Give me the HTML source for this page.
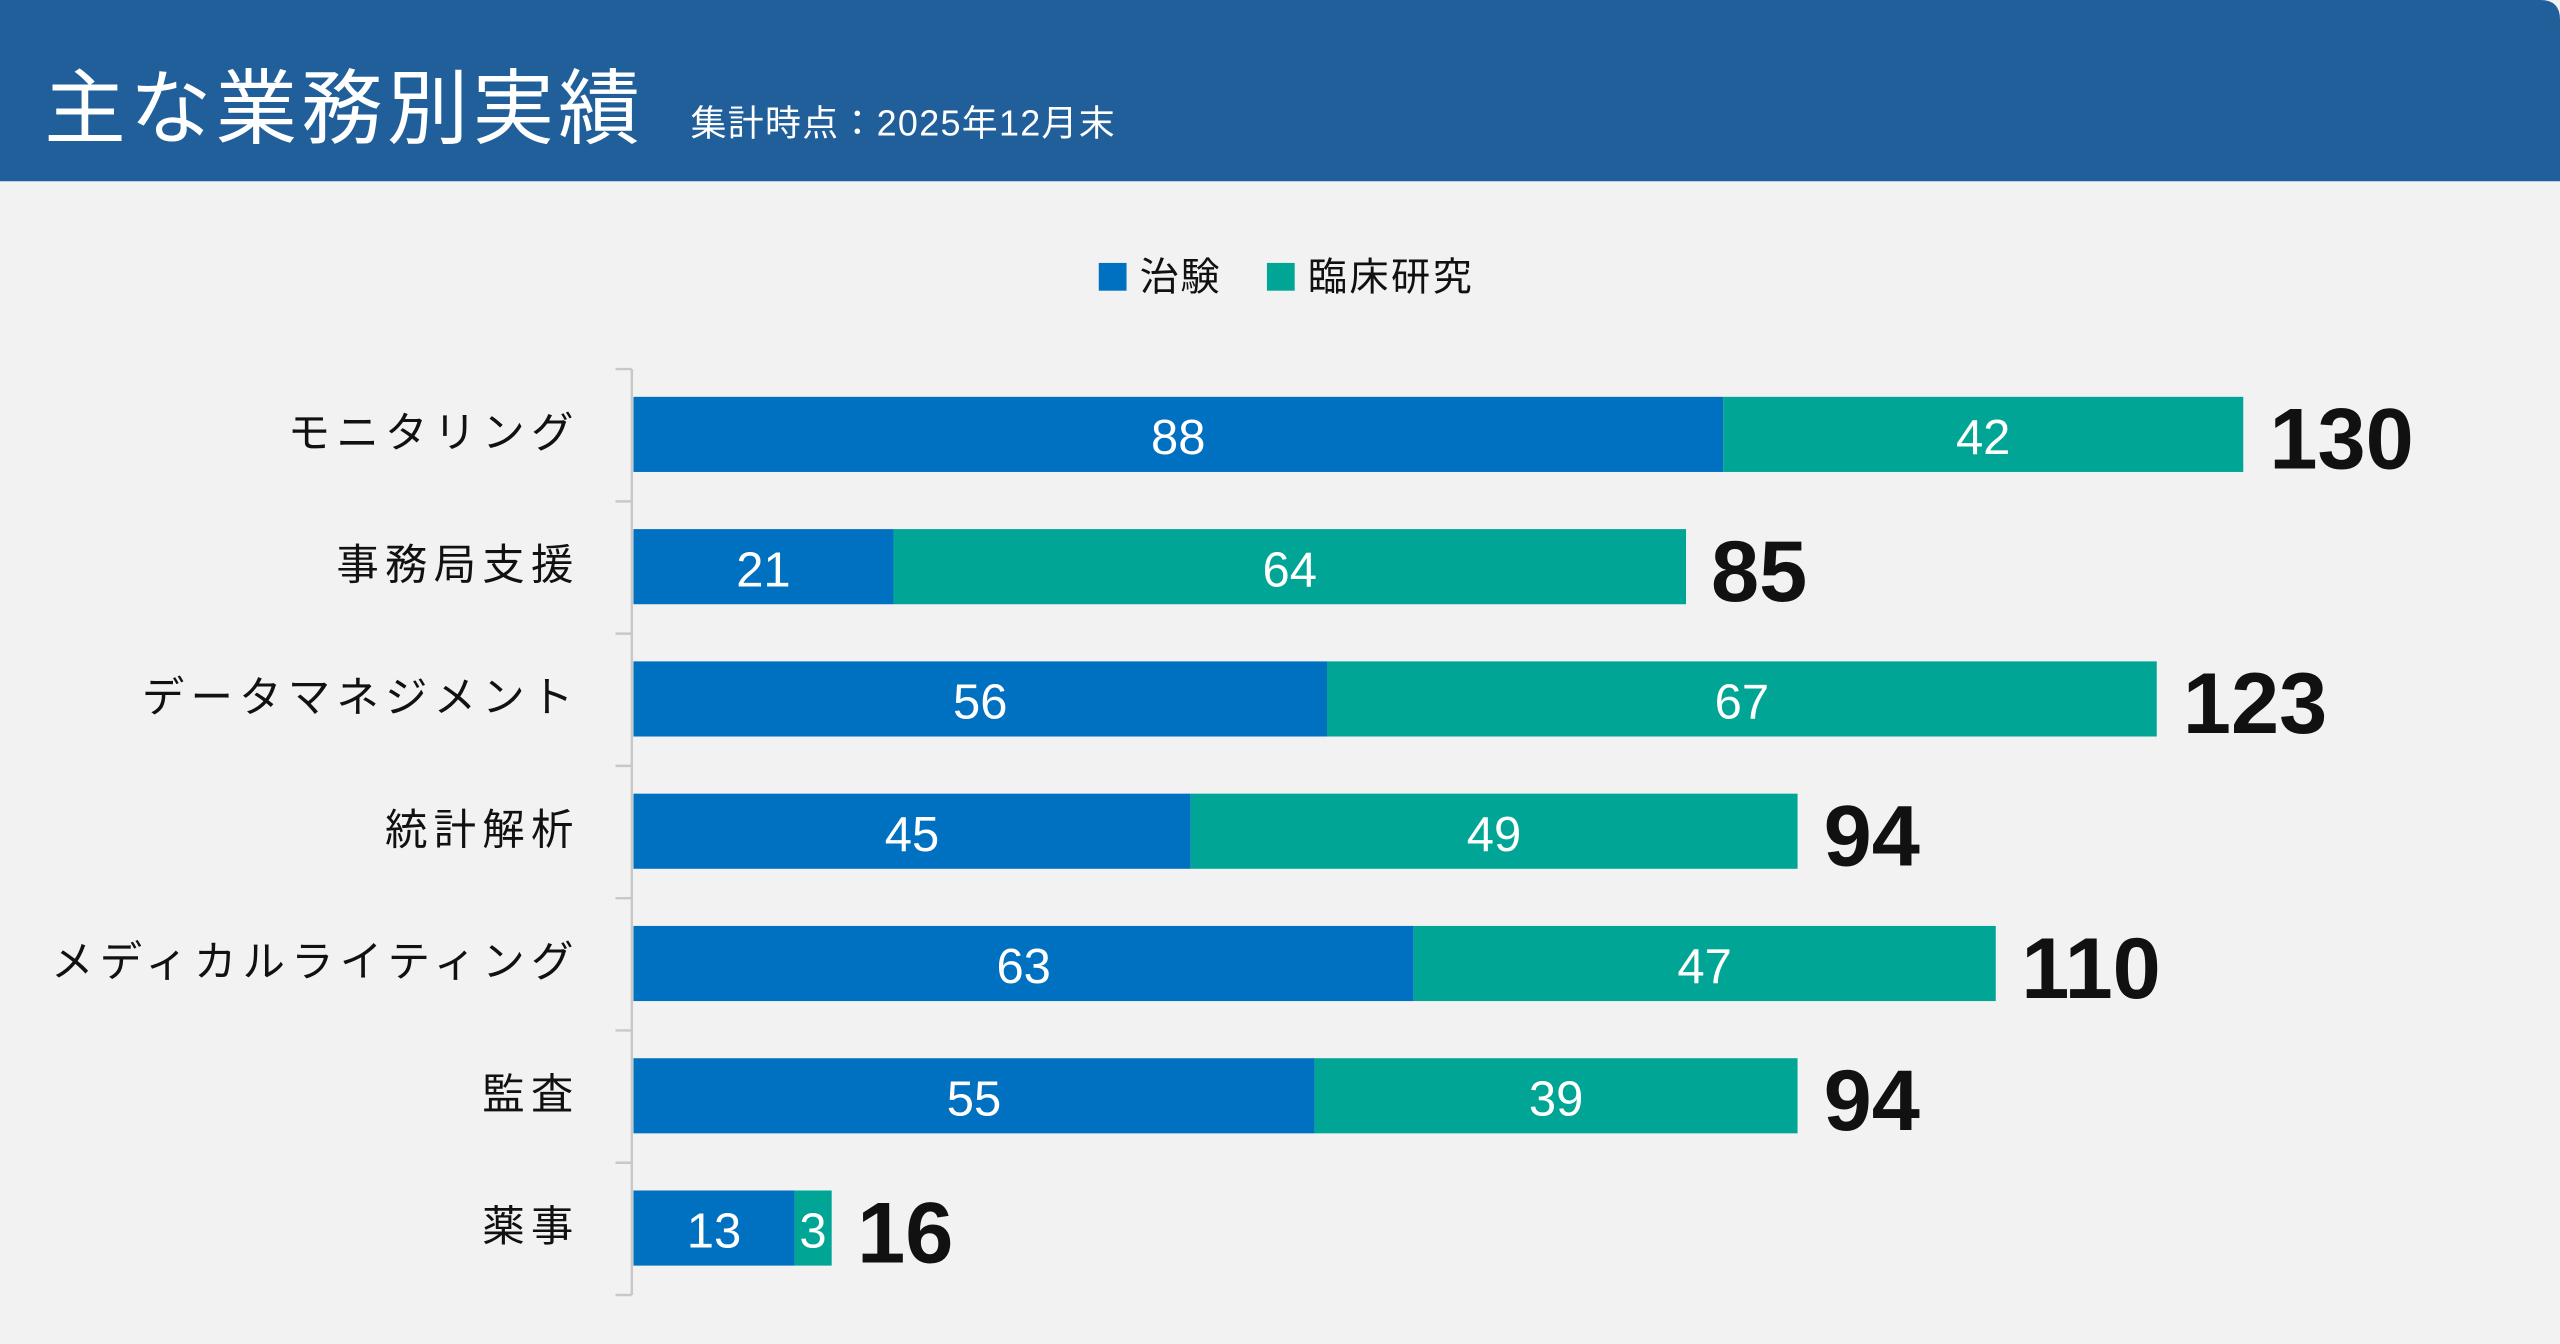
<!DOCTYPE html>
<html><head><meta charset="utf-8"><style>
html,body{margin:0;padding:0;background:#f2f2f2;}
svg{display:block;}
text{font-family:"Liberation Sans","Noto Sans CJK JP",sans-serif;}
</style></head><body>
<svg width="2560" height="1344" viewBox="0 0 1568 823" preserveAspectRatio="none" xmlns="http://www.w3.org/2000/svg">
<rect x="0" y="0" width="1568" height="823" fill="#f2f2f2"/>
<path d="M0 0 H1556 Q1568 0 1568 12 V111 H0 Z" fill="#215f9a"/>
<text x="27" y="84" font-size="50" fill="#fff" letter-spacing="2.5">主な業務別実績</text>
<text x="423" y="83" font-size="22" fill="#fff" letter-spacing="0.8">集計時点：2025年12月末</text>
<rect x="673" y="161" width="17" height="17" fill="#0070c0"/>
<text x="698" y="178" font-size="24" fill="#111" letter-spacing="1">治験</text>
<rect x="776" y="161" width="17" height="17" fill="#00a595"/>
<text x="801" y="178" font-size="24" fill="#111" letter-spacing="1.5">臨床研究</text>
<g stroke="#c8c8c8" stroke-width="1.5">
<line x1="387" y1="226" x2="387" y2="793"/>
<line x1="377" y1="226" x2="387" y2="226"/><line x1="377" y1="307" x2="387" y2="307"/>
<line x1="377" y1="388" x2="387" y2="388"/><line x1="377" y1="469" x2="387" y2="469"/>
<line x1="377" y1="550" x2="387" y2="550"/><line x1="377" y1="631" x2="387" y2="631"/>
<line x1="377" y1="712" x2="387" y2="712"/><line x1="377" y1="793" x2="387" y2="793"/>
</g>
<g font-size="26" fill="#111" text-anchor="end" letter-spacing="3.8">
<text x="355" y="274">モニタリング</text>
<text x="355" y="355">事務局支援</text>
<text x="355" y="436">データマネジメント</text>
<text x="355" y="517">統計解析</text>
<text x="355" y="598">メディカルライティング</text>
<text x="355" y="679">監査</text>
<text x="355" y="760">薬事</text>
</g>
<g>
<rect x="388" y="243" width="667.5" height="46" fill="#0070c0"/><rect x="1055.5" y="243" width="318.5" height="46" fill="#00a595"/>
<rect x="388" y="324" width="159.3" height="46" fill="#0070c0"/><rect x="547.3" y="324" width="485.4" height="46" fill="#00a595"/>
<rect x="388" y="405" width="424.8" height="46" fill="#0070c0"/><rect x="812.8" y="405" width="508.2" height="46" fill="#00a595"/>
<rect x="388" y="486" width="341.3" height="46" fill="#0070c0"/><rect x="729.3" y="486" width="371.7" height="46" fill="#00a595"/>
<rect x="388" y="567" width="477.9" height="46" fill="#0070c0"/><rect x="865.9" y="567" width="356.5" height="46" fill="#00a595"/>
<rect x="388" y="648" width="417.2" height="46" fill="#0070c0"/><rect x="805.2" y="648" width="295.8" height="46" fill="#00a595"/>
<rect x="388" y="729" width="98.6" height="46" fill="#0070c0"/><rect x="486.6" y="729" width="22.8" height="46" fill="#00a595"/>
</g>
<g font-size="30" fill="#fff" text-anchor="middle">
<text x="721.7" y="278">88</text><text x="1214.7" y="278">42</text>
<text x="467.6" y="359">21</text><text x="790" y="359">64</text>
<text x="600.4" y="440">56</text><text x="1066.9" y="440">67</text>
<text x="558.6" y="521">45</text><text x="915.1" y="521">49</text>
<text x="627" y="602">63</text><text x="1044.1" y="602">47</text>
<text x="596.6" y="683">55</text><text x="953.1" y="683">39</text>
<text x="437.3" y="764">13</text><text x="498" y="764">3</text>
</g>
<g font-size="53" font-weight="bold" fill="#111">
<text x="1390" y="287">130</text>
<text x="1048" y="368">85</text>
<text x="1337" y="449">123</text>
<text x="1117" y="530">94</text>
<text x="1238" y="611">110</text>
<text x="1117" y="692">94</text>
<text x="525" y="773">16</text>
</g>
</svg>
</body></html>
